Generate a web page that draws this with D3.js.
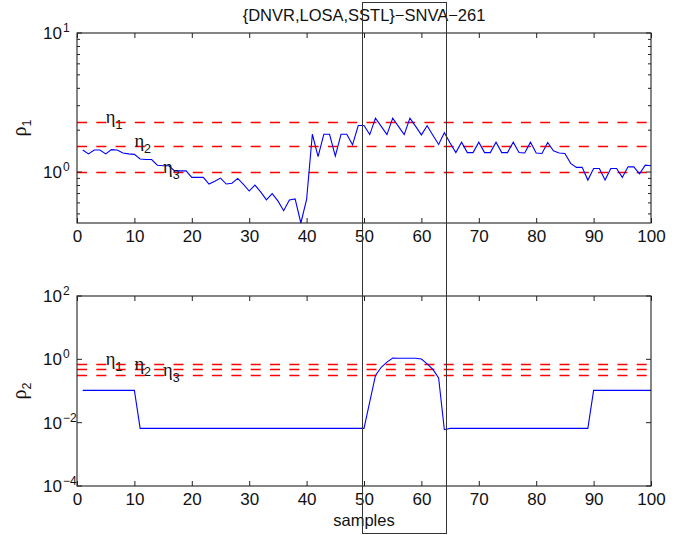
<!DOCTYPE html>
<html>
<head>
<meta charset="utf-8">
<script src="https://cdn.jsdelivr.net/npm/d3@7"></script>
<style>
  body { margin: 0; background: #fff; }
  svg { display: block; }
  text { font-family: "Liberation Sans", Arial, Helvetica, sans-serif; fill: #111; }
</style>
</head>
<body>
<div id="chart"></div>
<script>
// sample index (x) and the two ratio series
const samples = [1,2,3,4,5,6,7,8,9,10,11,12,13,14,15,16,17,18,19,20,21,22,23,24,25,26,27,28,29,30,
  31,32,33,34,35,36,37,38,39,40,41,42,43,44,45,46,47,48,49,50,51,52,53,54,55,56,57,58,59,60,
  61,62,63,64,65,66,67,68,69,70,71,72,73,74,75,76,77,78,79,80,81,82,83,84,85,86,87,88,89,90,
  91,92,93,94,95,96,97,98,99,100];

const rho1 = [1.44,1.35,1.44,1.44,1.35,1.45,1.44,1.37,1.35,1.34,
  1.24,1.23,1.23,1.12,1.11,1.11,1.02,1.02,1.02,0.915,
  0.915,0.915,0.82,0.86,0.905,0.82,0.83,0.9,0.815,0.73,
  0.805,0.72,0.63,0.7,0.62,0.527,0.63,0.64,0.43,0.635,
  1.87,1.29,1.87,1.87,1.3,1.87,1.87,1.57,2.16,2.16,
  1.86,2.44,2.13,1.86,2.44,2.13,1.86,2.44,2.13,1.85,
  2.15,1.84,1.58,1.92,1.62,1.38,1.64,1.38,1.38,1.64,
  1.38,1.38,1.64,1.38,1.38,1.64,1.38,1.37,1.64,1.37,
  1.36,1.63,1.42,1.37,1.36,1.155,1.08,1.08,0.875,1.06,
  1.06,0.875,1.06,1.06,0.915,1.09,1.09,0.97,1.12,1.11];

const rho2 = [0.105,0.105,0.105,0.105,0.105,0.105,0.105,0.105,0.105,0.105,
  0.0066,0.0066,0.0066,0.0066,0.0066,0.0066,0.0066,0.0066,0.0066,0.0066,
  0.0066,0.0066,0.0066,0.0066,0.0066,0.0066,0.0066,0.0066,0.0066,0.0066,
  0.0066,0.0066,0.0066,0.0066,0.0066,0.0066,0.0066,0.0066,0.0066,0.0066,
  0.0066,0.0066,0.0066,0.0066,0.0066,0.0066,0.0066,0.0066,0.0066,0.0066,
  0.045,0.31,0.56,0.82,1.1,1.08,1.08,1.08,1.08,1.02,
  0.72,0.48,0.26,0.006,0.0066,0.0066,0.0066,0.0066,0.0066,0.0066,
  0.0066,0.0066,0.0066,0.0066,0.0066,0.0066,0.0066,0.0066,0.0066,0.0066,
  0.0066,0.0066,0.0066,0.0066,0.0066,0.0066,0.0066,0.0066,0.0066,0.105,
  0.105,0.105,0.105,0.105,0.105,0.105,0.105,0.105,0.105,0.105];

// thresholds eta1..eta3 for each panel, and where their labels sit
const eta1Levels = [2.3, 1.55, 1.0];
const eta2Levels = [0.73, 0.48, 0.31];
const etaNames = ['1', '2', '3'];
const etaLabelAt = [5, 10, 15];

const xTicks = [0,10,20,30,40,50,60,70,80,90,100];
const rho1Major = [1, 10];
const rho2Major = [1e-4, 1e-2, 1, 1e2];
const rho2Domain = [1e-4, 1e2];
const highlight = [49.7, 64.3];   // sample window of the black frame

const W = 679, H = 535;
const FS = 17;
const svg = d3.select('#chart').append('svg').attr('width', W).attr('height', H);

const x = d3.scaleLinear().domain([0, 100]).range([77, 651]);
const y1 = d3.scaleLog().domain([d3.min(rho1), 10]).range([223, 33]);
const y2 = d3.scaleLog().domain(rho2Domain).range([486, 296]);

const snap = v => Math.round(v) + 0.5;

function expLabel(v){
  const e = Math.round(Math.log10(v));
  return e < 0 ? '\u2212' + (-e) : String(e);
}

function panel(y, data, levels, majors, minors, yName){
  const g = svg.append('g');
  const [yb, yt] = y.range();

  // threshold lines
  g.selectAll('line.eta').data(levels).enter().append('line')
    .attr('class', 'eta')
    .attr('x1', x.range()[0]).attr('x2', x.range()[1])
    .attr('y1', d => snap(y(d))).attr('y2', d => snap(y(d)))
    .attr('stroke', '#ff0000').attr('stroke-width', 1.4)
    .attr('stroke-dasharray', '10,9.3');

  // series
  const line = d3.line().x((d, i) => x(samples[i])).y(d => y(d));
  g.append('path').datum(data)
    .attr('d', line).attr('fill', 'none')
    .attr('stroke', '#0000ff').attr('stroke-width', 1.1);

  // eta labels
  const lab = g.selectAll('text.etal').data(levels).enter().append('text')
    .attr('class', 'etal')
    .attr('x', (d, i) => x(etaLabelAt[i]))
    .attr('y', d => y(d) + 1);
  lab.append('tspan').attr('font-family', '"Liberation Serif", "Times New Roman", serif')
    .attr('font-size', 18.5).text('\u03b7');
  lab.append('tspan').attr('font-size', 12.5).attr('dy', 6).text((d, i) => etaNames[i]);

  // frame
  g.append('rect').attr('x', x.range()[0]).attr('y', yt)
    .attr('width', x.range()[1] - x.range()[0]).attr('height', yb - yt)
    .attr('fill', 'none').attr('stroke', '#222').attr('stroke-width', 1.1);

  // x ticks bottom (labelled) and top
  const xb = g.append('g').attr('transform', `translate(0,${yb})`)
    .call(d3.axisBottom(x).tickValues(xTicks).tickSize(-5).tickPadding(7).tickFormat(d3.format('d')));
  const xt = g.append('g').attr('transform', `translate(0,${yt})`)
    .call(d3.axisTop(x).tickValues(xTicks).tickSize(-5).tickFormat(''));
  [xb, xt].forEach(a => {
    a.select('.domain').remove();
    a.selectAll('line').attr('stroke', '#222');
    a.selectAll('text').attr('font-size', FS).attr('fill', '#111')
      .style('font-family', '"Liberation Sans", Arial, sans-serif');
  });

  // y ticks, left and right, major and minor
  const ticks = majors.map(v => ({v, len: 5})).concat(minors.map(v => ({v, len: 3})));
  [[x.range()[0], 1], [x.range()[1], -1]].forEach(([x0, s]) => {
    g.selectAll(null).data(ticks).enter().append('line')
      .attr('x1', x0).attr('x2', d => x0 + s * d.len)
      .attr('y1', d => y(d.v)).attr('y2', d => y(d.v))
      .attr('stroke', '#222');
  });

  // y tick labels 10^n
  const yl = g.selectAll('g.ylab').data(majors).enter().append('g');
  yl.append('text').attr('x', x.range()[0] - 15).attr('y', d => y(d) + 6)
    .attr('text-anchor', 'end').attr('font-size', FS).text('10');
  yl.append('text').attr('x', x.range()[0] - 14).attr('y', d => y(d) - 1)
    .attr('font-size', 12).text(d => expLabel(d));

  // y axis name
  const yn = svg.append('text')
    .attr('transform', `translate(26,${(yb + yt) / 2}) rotate(-90)`)
    .attr('text-anchor', 'middle');
  yn.append('tspan').attr('font-family', '"Liberation Serif", "Times New Roman", serif')
    .attr('font-size', 20).text('\u03c1');
  yn.append('tspan').attr('font-size', 12.5).attr('dy', 5).text(yName);
}

const minor1 = y1.ticks().filter(v => !rho1Major.includes(v));
panel(y1, rho1, eta1Levels, rho1Major, minor1, '1');
panel(y2, rho2, eta2Levels, rho2Major, [], '2');

// title and x label
svg.append('text').attr('x', x(50)).attr('y', 20.5).attr('text-anchor', 'middle')
  .attr('font-size', 16.5).text('{DNVR,LOSA,SSTL}\u2212SNVA\u2212261');
svg.append('text').attr('x', x(50)).attr('y', 525.5).attr('text-anchor', 'middle')
  .attr('font-size', 16.5).text('samples');

// highlight frame spanning both panels
svg.append('rect')
  .attr('x', snap(x(highlight[0]))).attr('y', 2.5)
  .attr('width', Math.round(x(highlight[1]) - x(highlight[0]))).attr('height', 531)
  .attr('fill', 'none').attr('stroke', '#333').attr('stroke-width', 1);
</script>
</body>
</html>
